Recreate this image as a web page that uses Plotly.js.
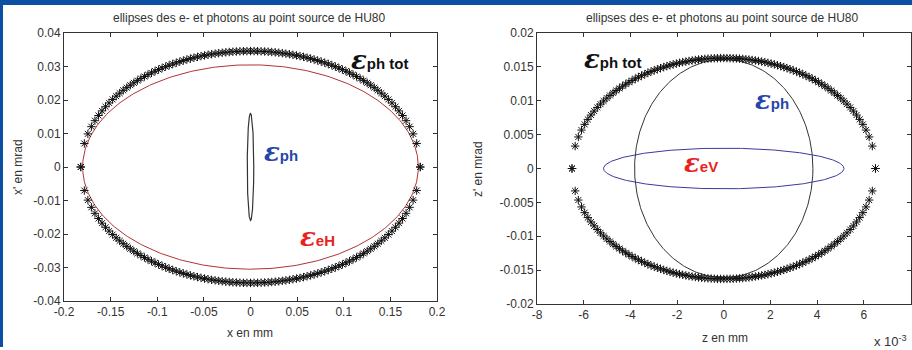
<!DOCTYPE html>
<html><head><meta charset="utf-8">
<script src="https://cdn.plot.ly/plotly-3.0.1.min.js"></script>
<style>html,body{margin:0;padding:0;background:#fff;}#chart{width:912px;height:350px;}</style>
</head><body><div id="chart"></div>
<script>
// ---- data: ellipse semi-axes [half-width, half-height] ----
// Left panel: x in mm, x' in mrad
const leftPhTotAxes = [0.182, 0.0346];   // ε ph tot (asterisks)
const leftEHAxes    = [0.180, 0.0305];   // ε eH (red)
const leftPhAxes    = [0.0035, 0.0160];  // ε ph (narrow black)
// Right panel: z in 1e-3 mm, z' in mrad
const rightPhTotAxes = [6.5, 0.0163];    // ε ph tot (asterisks)
const rightPhAxes    = [3.82, 0.0161];   // ε ph (black)
const rightEVAxes    = [5.15, 0.0030];   // ε eV (blue)
const starSamplesPerHalf = 97;

// ---- tick labels ----
const leftXTicks = [-0.2, -0.15, -0.1, -0.05, 0, 0.05, 0.1, 0.15, 0.2];
const leftXTickText = ['-0.2', '-0.15', '-0.1', '-0.05', '0', '0.05', '0.1', '0.15', '0.2'];
const leftYTicks = [-0.04, -0.03, -0.02, -0.01, 0, 0.01, 0.02, 0.03, 0.04];
const leftYTickText = ['-0.04', '-0.03', '-0.02', '-0.01', '0', '0.01', '0.02', '0.03', '0.04'];
const rightXTicks = [-8, -6, -4, -2, 0, 2, 4, 6, 8];
const rightXTickText = ['-8', '-6', '-4', '-2', '0', '2', '4', '6', '8'];
const rightYTicks = [-0.02, -0.015, -0.01, -0.005, 0, 0.005, 0.01, 0.015, 0.02];
const rightYTickText = ['-0.02', '-0.015', '-0.01', '-0.005', '0', '0.005', '0.01', '0.015', '0.02'];

const titleText = 'ellipses des e- et photons au point source de HU80';

function ellipseCurve(ax) {
  const xs = [], ys = [];
  for (let i = 0; i <= 360; i++) {
    const t = i * Math.PI / 180;
    xs.push(ax[0] * Math.cos(t)); ys.push(ax[1] * Math.sin(t));
  }
  return {x: xs, y: ys};
}
function ellipseStars(ax, n) {
  const xs = [], ys = [];
  for (let s of [1, -1]) {
    for (let i = 0; i < n; i++) {
      const x = -ax[0] + 2 * ax[0] * i / (n - 1);
      const r = Math.max(0, 1 - (x / ax[0]) * (x / ax[0]));
      xs.push(x); ys.push(s * ax[1] * Math.sqrt(r));
    }
  }
  return {x: xs, y: ys};
}

const starMarker = {symbol: 'asterisk-open', size: 7, color: '#111', line: {color: '#111', width: 1}};
const traces = [];
let c;
c = ellipseCurve(leftEHAxes);
traces.push({x: c.x, y: c.y, xaxis: 'x', yaxis: 'y', mode: 'lines', line: {color: '#b03434', width: 1}});
c = ellipseCurve(leftPhAxes);
traces.push({x: c.x, y: c.y, xaxis: 'x', yaxis: 'y', mode: 'lines', line: {color: '#333', width: 1.2}});
c = ellipseStars(leftPhTotAxes, starSamplesPerHalf);
traces.push({x: c.x, y: c.y, xaxis: 'x', yaxis: 'y', mode: 'markers', marker: starMarker});

c = ellipseCurve(rightPhAxes);
traces.push({x: c.x, y: c.y, xaxis: 'x2', yaxis: 'y2', mode: 'lines', line: {color: '#333', width: 1}});
c = ellipseCurve(rightEVAxes);
traces.push({x: c.x, y: c.y, xaxis: 'x2', yaxis: 'y2', mode: 'lines', line: {color: '#3a3a9a', width: 1}});
c = ellipseStars(rightPhTotAxes, starSamplesPerHalf);
traces.push({x: c.x, y: c.y, xaxis: 'x2', yaxis: 'y2', mode: 'markers', marker: starMarker});

const W = 912, H = 350;
const FAM = 'Liberation Sans, Arial, sans-serif';
const tickFont = {family: FAM, size: 12, color: '#333'};
function axisBase(extra) {
  return Object.assign({
    showgrid: false, zeroline: false, showline: true, mirror: 'ticks',
    linecolor: '#333', linewidth: 1, ticks: 'inside', ticklen: 4, tickcolor: '#333',
    tickmode: 'array', tickfont: tickFont, fixedrange: true
  }, extra);
}
function ann(xpx, ypx, text, opts) {
  return Object.assign({
    xref: 'paper', yref: 'paper', x: xpx / W, y: 1 - ypx / H, text: text, showarrow: false,
    xanchor: 'center', yanchor: 'middle',
    font: {family: FAM, size: 12, color: '#333'}
  }, opts || {});
}
function epsLabel(sub) {
  return '<span style="font-family:\'DejaVu Serif\';font-size:26px"><b><i>ε</i></b></span><b>' + sub + '</b>';
}
const epsFont = (col) => ({family: FAM, size: 15, color: col});

const layout = {
  width: W, height: H, margin: {l: 0, r: 0, t: 0, b: 0},
  paper_bgcolor: '#fff', plot_bgcolor: '#fff', showlegend: false,
  xaxis: axisBase({domain: [64 / W, 437 / W], range: [-0.2, 0.2], tickvals: leftXTicks, ticktext: leftXTickText, anchor: 'y'}),
  yaxis: axisBase({domain: [(H - 301) / H, (H - 33) / H], range: [-0.04, 0.04], tickvals: leftYTicks, ticktext: leftYTickText, anchor: 'x'}),
  xaxis2: axisBase({domain: [537 / W, 910.5 / W], range: [-8, 8], tickvals: rightXTicks, ticktext: rightXTickText, anchor: 'y2'}),
  yaxis2: axisBase({domain: [(H - 304) / H, (H - 33) / H], range: [-0.02, 0.02], tickvals: rightYTicks, ticktext: rightYTickText, anchor: 'x2'}),
  annotations: [
    ann(249, 18, titleText, {font: {family: FAM, size: 12, color: '#333'}}),
    ann(722, 18, titleText, {font: {family: FAM, size: 12, color: '#333'}}),
    ann(250, 333, 'x en mm'),
    ann(725, 338, 'z en mm'),
    ann(18, 167, "x' en mrad", {textangle: -90}),
    ann(478, 169, "z' en mrad", {textangle: -90}),
    ann(872, 341, 'x 10<sup>-3</sup>', {xanchor: 'left', font: {family: FAM, size: 13, color: '#333'}}),
    ann(349, 60, epsLabel('ph tot'), {xanchor: 'left', font: epsFont('#111')}),
    ann(262, 152, epsLabel('ph'), {xanchor: 'left', font: epsFont('#2545a8')}),
    ann(298, 237, epsLabel('eH'), {xanchor: 'left', font: epsFont('#e8231f')}),
    ann(582, 59, epsLabel('ph tot'), {xanchor: 'left', font: epsFont('#111')}),
    ann(753, 100, epsLabel('ph'), {xanchor: 'left', font: epsFont('#2545a8')}),
    ann(682, 163, epsLabel('eV'), {xanchor: 'left', font: epsFont('#e8231f')})
  ],
  shapes: [
    {type: 'rect', xref: 'paper', yref: 'paper', x0: 0, x1: 1, y0: 1 - 5 / H, y1: 1, fillcolor: '#0b4ea2', line: {width: 0}},
    {type: 'rect', xref: 'paper', yref: 'paper', x0: 0, x1: 3 / W, y0: 3 / H, y1: 1, fillcolor: '#0b4ea2', line: {width: 0}}
  ]
};
Plotly.newPlot('chart', traces, layout, {displayModeBar: false, staticPlot: true});
</script>
</body></html>
